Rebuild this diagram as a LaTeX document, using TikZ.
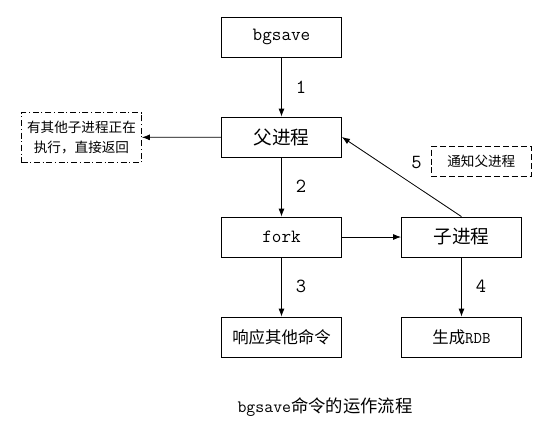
\documentclass[tikz,border=0pt]{standalone}
\usepackage{fontspec}
\setmainfont{Noto Sans CJK SC}
\usetikzlibrary{arrows.meta}

\tikzset{
    procbox/.style={draw, line width=0.6pt, minimum width=90pt, minimum height=30pt,
        inner sep=0pt, font=\fontsize{14}{16}\selectfont},
    smallbox/.style={procbox, font=\fontsize{12.3}{14}\selectfont},
    notebox/.style={draw, line width=0.6pt, inner sep=0pt, align=center,
        font=\fontsize{10.2}{15}\selectfont},
    steplabel/.style={font=\ttfamily\fontsize{15}{17}\selectfont},
    flow/.style={line width=0.6pt, -{Latex[length=6pt,width=4.5pt]}}
}

\begin{document}
\begin{tikzpicture}[x=0.75pt, y=-0.75pt]
    \useasboundingbox (0,0) rectangle (557,437);

    % process boxes
    \node[procbox] (bgsave) at (281.5,37) {\ttfamily bgsave};
    \node[procbox] (parent) at (281.5,137) {父进程};
    \node[procbox] (fork) at (281.5,237) {\ttfamily fork};
    \node[procbox] (child) at (461.5,237) {子进程};
    \node[smallbox] (respond) at (281.5,337) {响应其他命令};
    \node[smallbox] (rdb) at (461.5,337) {生成{\ttfamily RDB}};

    % notes
    \node[notebox, dash pattern=on 4.5pt off 2pt on 0.8pt off 2pt,
        minimum width=90pt, minimum height=37.5pt] (busy) at (81.5,137.5)
        {有其他子进程正在\\执行，直接返回};
    \node[notebox, dash pattern=on 4.5pt off 2.2pt,
        minimum width=75pt, minimum height=22pt] (notify) at (481.3,161.3) {通知父进程};

    % connectors
    \draw[flow] (bgsave) -- (parent);
    \draw[flow] (parent) -- (busy);
    \draw[flow] (parent) -- (fork);
    \draw[flow] (fork) -- (child);
    \draw[flow] (fork) -- (respond);
    \draw[flow] (child) -- (rdb);
    \draw[flow] (child.north) -- (parent.east);

    % step numbers
    \node[steplabel] (n1) at (301,87) {1};
    \node[steplabel] (n2) at (301,186) {2};
    \node[steplabel] (n3) at (301,286) {3};
    \node[steplabel] (n4) at (481,286) {4};
    \node[steplabel] (n5) at (416.5,163) {5};

    \node[font=\fontsize{13}{15}\selectfont] (caption) at (325,407)
        {{\ttfamily bgsave}命令的运作流程};
\end{tikzpicture}
\end{document}
